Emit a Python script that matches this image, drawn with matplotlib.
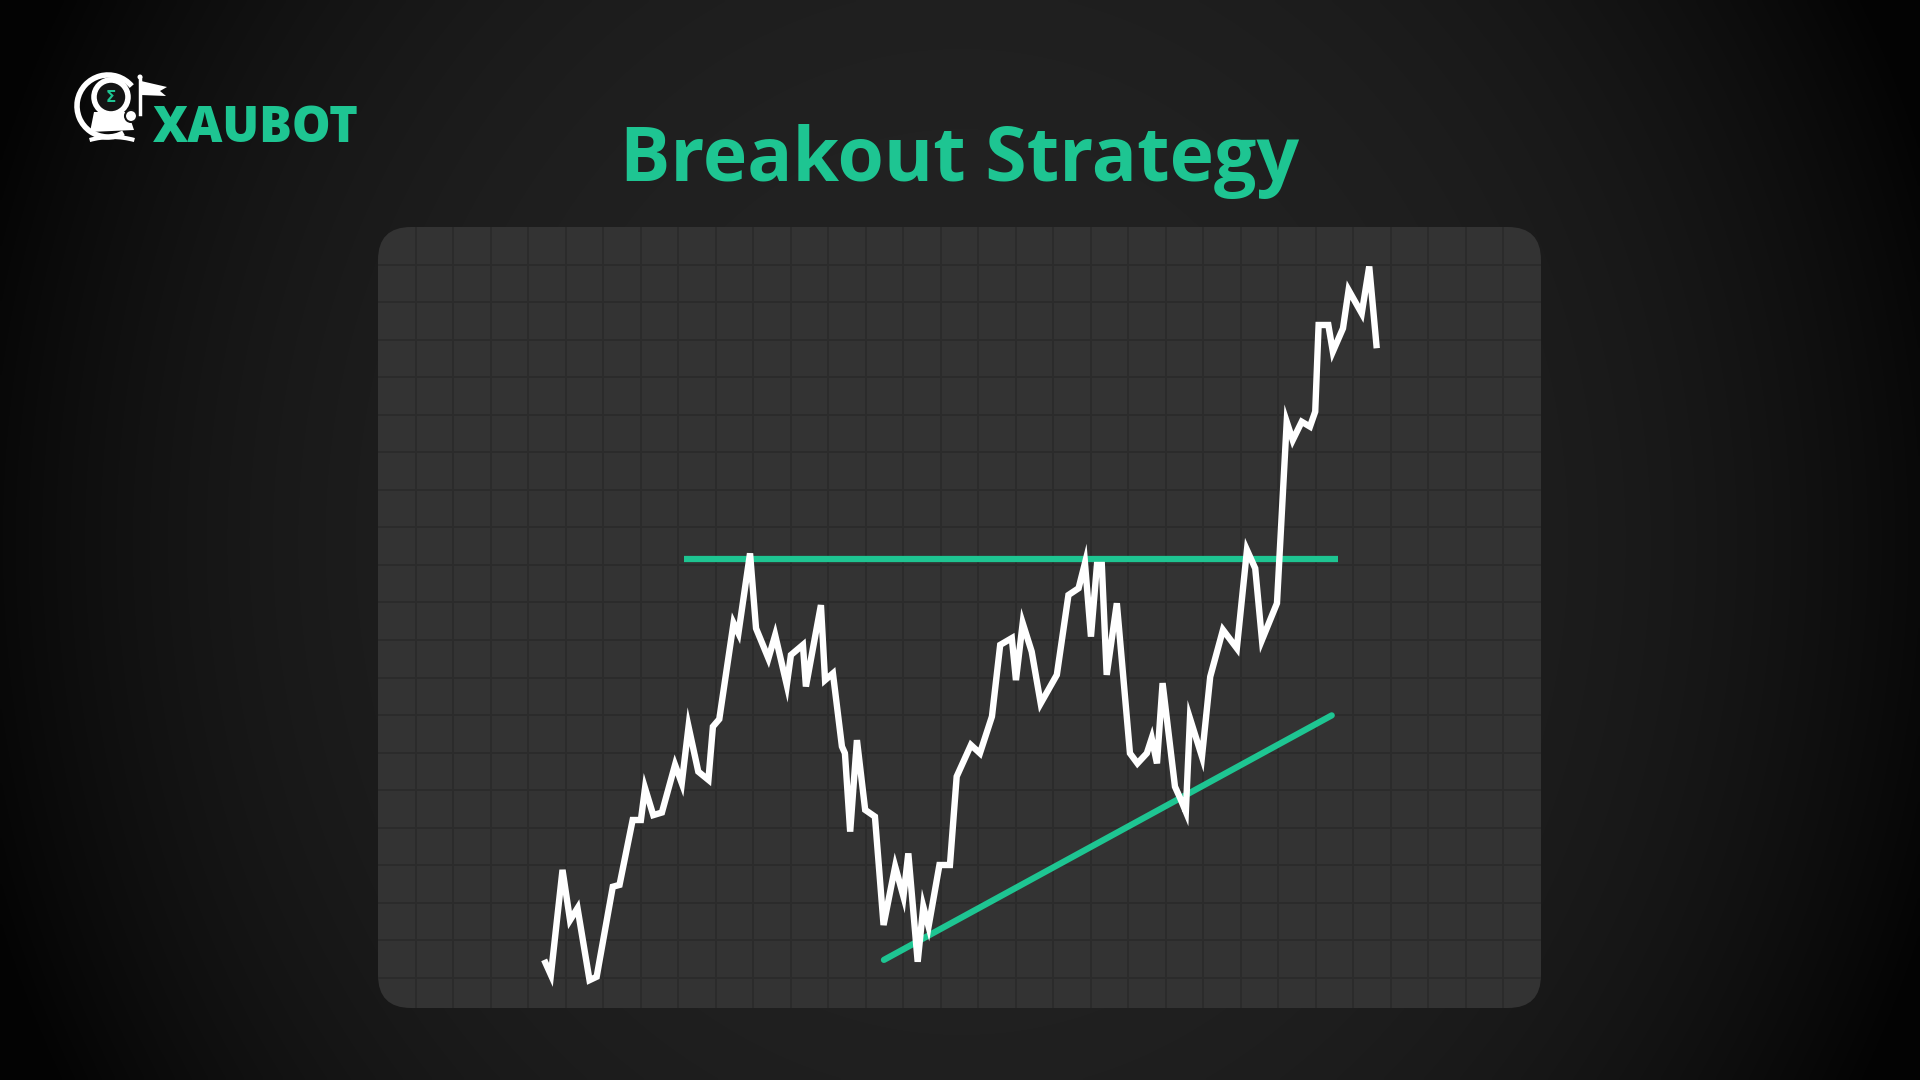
import numpy as np
import matplotlib
matplotlib.use("Agg")
import matplotlib.pyplot as plt
from matplotlib.patches import FancyBboxPatch, Circle, Arc, Polygon

# price path, x in sessions, y in price units (one grid cell = one unit)
time_x = [4.43, 4.61, 4.92, 5.12, 5.32, 5.64, 5.83, 6.26, 6.44, 6.79,
          7.01, 7.12, 7.34, 7.57, 7.92, 8.10, 8.28, 8.54, 8.81, 8.93,
          9.10, 9.48, 9.61, 9.92, 10.08, 10.41, 10.59, 10.90, 11.01, 11.33,
          11.41, 11.81, 11.92, 12.13, 12.37, 12.45, 12.59, 12.77, 12.99, 13.25,
          13.48, 13.79, 14.01, 14.14, 14.39, 14.54, 14.68, 14.97, 15.25, 15.43,
          15.81, 16.05, 16.37, 16.59, 16.90, 17.01, 17.19, 17.43, 17.67, 18.10,
          18.41, 18.68, 18.85, 19.01, 19.17, 19.30, 19.43, 19.70, 20.05, 20.25,
          20.50, 20.63, 20.77, 20.92, 21.25, 21.39, 21.54, 21.65, 21.97, 22.19,
          22.53, 22.90, 23.17, 23.39, 23.57, 23.97, 24.23, 24.39, 24.63, 24.85,
          24.99, 25.08, 25.34, 25.46, 25.73, 25.88, 26.23, 26.43, 26.63]
price = [0.47, 0.07, 2.87, 1.53, 1.85, -0.07, 0.02, 2.42, 2.47, 4.20,
         4.20, 5.05, 4.33, 4.40, 5.67, 5.18, 6.69, 5.49, 5.27, 6.69,
         6.89, 9.45, 9.18, 11.31, 9.31, 8.51, 9.13, 7.80, 8.60, 8.87,
         7.76, 9.93, 7.93, 8.11, 6.16, 5.98, 3.89, 6.33, 4.47, 4.29,
         1.40, 2.96, 2.16, 3.31, 0.42, 1.89, 1.36, 3.00, 3.00, 5.36,
         6.20, 5.98, 6.96, 8.87, 9.05, 7.93, 9.45, 8.69, 7.31, 8.07,
         10.20, 10.38, 11.05, 9.09, 11.00, 11.00, 8.07, 9.98, 5.98, 5.71,
         5.98, 6.38, 5.71, 7.85, 5.09, 4.78, 4.42, 6.91, 5.89, 8.02,
         9.27, 8.78, 11.40, 10.91, 9.00, 9.98, 14.82, 14.33, 14.82, 14.69,
         15.09, 17.40, 17.40, 16.69, 17.31, 18.33, 17.71, 18.96, 16.78]

resistance_x = [8.16, 25.61]
resistance_y = [11.15, 11.15]
support_x = [13.49, 25.43]
support_y = [0.47, 6.99]

GREEN = '#1ec592'
W, H = 1920, 1080

fig = plt.figure(figsize=(19.2, 10.8), dpi=100)

# background layer in pixel space
bg = fig.add_axes([0, 0, 1, 1])
bg.set_xlim(0, W)
bg.set_ylim(H, 0)
bg.axis('off')
yy, xx = np.mgrid[0:H:4, 0:W:4]
d = np.sqrt(((xx - 960) / 960.0) ** 2 + (0.5 * (yy - 540) / 540.0) ** 2)
shade = np.clip(0.135 - 0.1 * d ** 3, 0.015, 0.14)
bg.imshow(np.dstack([shade] * 3), extent=(0, W, H, 0), interpolation='bilinear', zorder=0)

panel = FancyBboxPatch((378 + 33, 227 + 33), 1163 - 66, 781 - 66,
                       boxstyle='round,pad=33', fc='#333333', ec='none', zorder=1)
bg.add_patch(panel)

# title
bg.text(960, 181, 'Breakout Strategy', color=GREEN, fontsize=54, fontweight='bold',
        family='Open Sans', ha='center', va='baseline', zorder=3)

# logo: simple astronaut badge + wordmark
bg.add_patch(Arc((108, 106), 62, 62, theta1=60, theta2=320, lw=4, color='white', zorder=3))
bg.add_patch(Circle((111, 97), 17, fc='#141414', ec='white', lw=4, zorder=4))
bg.text(111, 98, 'Σ', color=GREEN, fontsize=11, fontweight='bold', ha='center', va='center', zorder=5)
bg.add_patch(Polygon([[94, 112], [128, 112], [134, 130], [90, 132]], closed=True,
                     fc='white', ec='none', zorder=3))
bg.add_patch(Circle((131, 116), 6, fc='white', ec='#141414', lw=1.5, zorder=4))
bg.plot([140, 140], [78, 114], color='white', lw=2.5, zorder=3)
bg.add_patch(Circle((140, 77), 2.5, fc='white', ec='none', zorder=3))
bg.add_patch(Polygon([[141, 81], [167, 87], [160, 91], [166, 96], [141, 95]], closed=True,
                     fc='white', ec='none', zorder=3))
bg.add_patch(Arc((112, 172), 110, 70, theta1=235, theta2=305, lw=3, color='white', zorder=3))
bg.text(153, 142, 'XAUBOT', color=GREEN, fontsize=35, fontweight='heavy',
        family='Open Sans', ha='left', va='baseline', zorder=3)

# chart area on the panel
ax = fig.add_axes([378 / W, (H - 1008) / H, 1163 / W, 781 / H])
ax.patch.set_alpha(0)
ax.set_xlim(0, 31.01)
ax.set_ylim(-0.813, 20.013)
ax.set_xticks(np.arange(1, 31))
ax.set_yticks(np.arange(0, 20))
ax.grid(True, color='#2b2b2b', lw=1.3)
ax.tick_params(length=0, labelbottom=False, labelleft=False)
for s in ax.spines.values():
    s.set_visible(False)

ax.plot(resistance_x, resistance_y, color=GREEN, lw=4.5, solid_capstyle='butt', zorder=3)
ax.plot(support_x, support_y, color=GREEN, lw=4.5, solid_capstyle='round', zorder=3)
ax.plot(time_x, price, color='white', lw=4.6, solid_joinstyle='miter',
        solid_capstyle='butt', zorder=4)

fig.savefig('out.png', dpi=100)
